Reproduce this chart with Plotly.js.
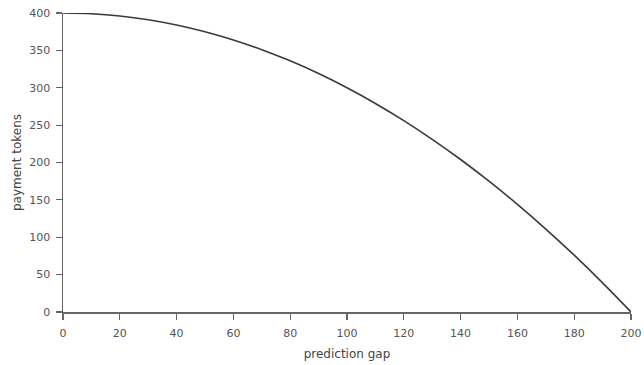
<!DOCTYPE html>
<html>
<head>
<meta charset="utf-8">
<script src="https://cdn.plot.ly/plotly-3.0.1.min.js"></script>
<style>html,body{margin:0;padding:0;background:#fff;}#chart{width:644px;height:365px;}</style>
</head>
<body>
<div id="chart"></div>
<script>
const predictionGap = [0, 10, 20, 30, 40, 50, 60, 70, 80, 90, 100, 110, 120, 130, 140, 150, 160, 170, 180, 190, 200];
const paymentTokens = [400, 399, 396, 391, 384, 375, 364, 351, 336, 319, 300, 279, 256, 231, 204, 175, 144, 111, 76, 39, 0];
const xTicks = [0, 20, 40, 60, 80, 100, 120, 140, 160, 180, 200];
const yTicks = [0, 50, 100, 150, 200, 250, 300, 350, 400];

const axisColor = '#666';
const fontFam = 'DejaVu Sans, sans-serif';

Plotly.newPlot('chart', [{
  x: predictionGap,
  y: paymentTokens,
  type: 'scatter',
  mode: 'lines',
  line: {color: '#3a3a3a', width: 1.6, shape: 'spline'},
  hoverinfo: 'skip'
}], {
  width: 644, height: 365,
  margin: {l: 63, r: 13, t: 13, b: 53},
  paper_bgcolor: '#fff', plot_bgcolor: '#fff',
  showlegend: false,
  font: {family: fontFam, size: 11, color: '#555'},
  xaxis: {
    range: [0, 200], tickvals: xTicks, ticktext: xTicks.map(String),
    showgrid: false, zeroline: false, showline: true, linecolor: axisColor, linewidth: 1.5,
    ticks: 'outside', ticklen: 6, tickcolor: axisColor, tickwidth: 1.2,
    ticklabelstandoff: 4,
    tickfont: {family: fontFam, size: 11, color: '#555'},
    title: {text: 'prediction gap', font: {family: fontFam, size: 12, color: '#444'}, standoff: 11}
  },
  yaxis: {
    range: [0, 400], tickvals: yTicks, ticktext: yTicks.map(String),
    showgrid: false, zeroline: false, showline: true, linecolor: axisColor, linewidth: 1.5,
    ticks: 'outside', ticklen: 6, tickcolor: axisColor, tickwidth: 1.2,
    ticklabelstandoff: 3,
    tickfont: {family: fontFam, size: 11, color: '#555'},
    title: {text: 'payment tokens', font: {family: fontFam, size: 12, color: '#444'}, standoff: 5}
  }
}, {displayModeBar: false, staticPlot: true});
</script>
</body>
</html>
